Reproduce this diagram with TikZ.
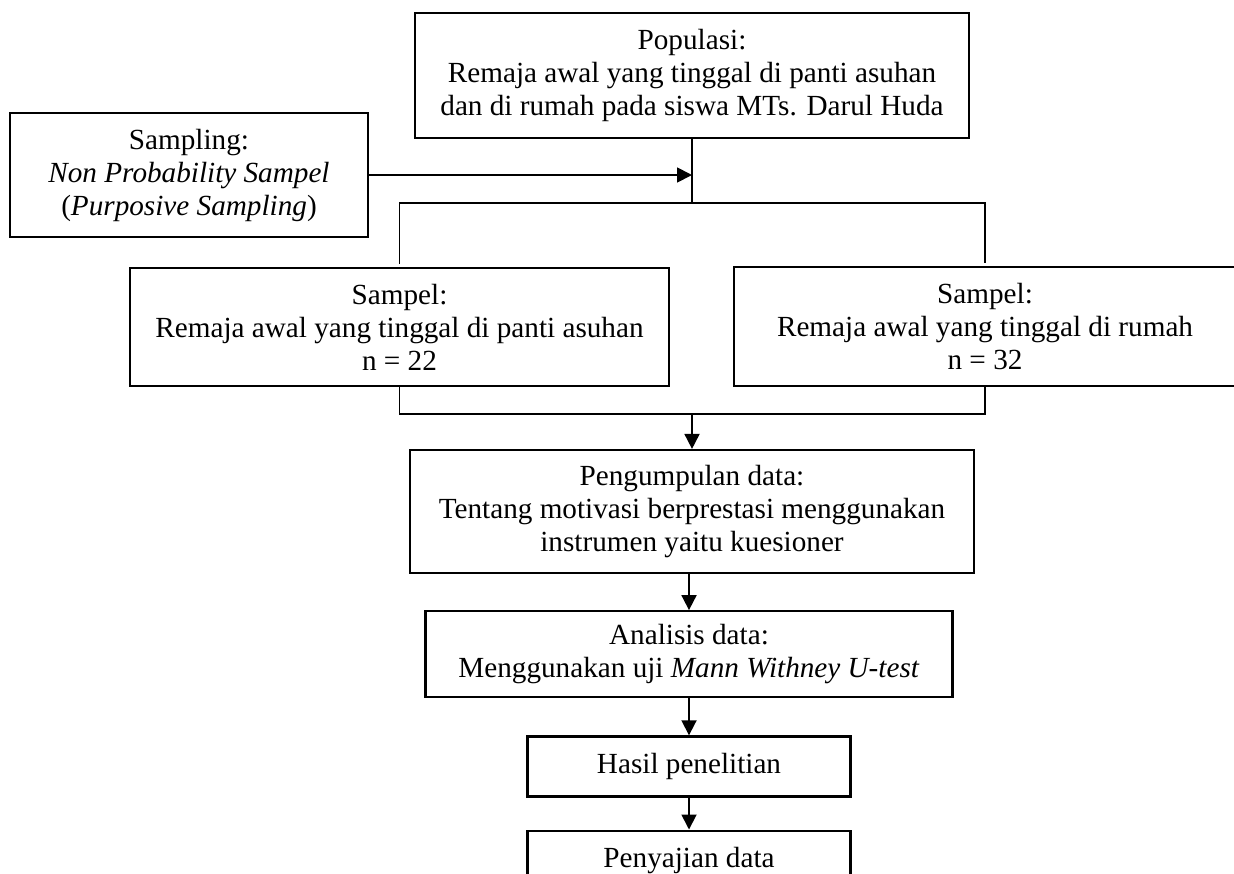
\documentclass[tikz,border=0pt]{standalone}
\usepackage{fontspec}
\setmainfont{Liberation Serif}
\usetikzlibrary{arrows.meta,positioning}

\begin{document}
\begin{tikzpicture}[
    x=0.5pt, y=-0.5pt, % one unit is one pixel, y runs downwards
    >={Triangle[length=7.5pt,width=7.5pt]}, % filled arrow heads
    line width=0.9pt,
    box/.style={draw, line width=1.1pt, align=center, inner sep=2pt,
        font=\fontsize{14.6}{16.5}\selectfont},
    link/.style={shorten >=1.5pt}
]
\useasboundingbox (0,0) rectangle (1234,873);
\clip (0,0) rectangle (1234,873);

% Nodes
\node[box, minimum width=277pt, minimum height=62.5pt] (P) at (692,75.5)
    {Populasi:\\ Remaja awal yang tinggal di panti asuhan\\ dan di rumah pada siswa MTs. Darul Huda};
\node[box, minimum width=179pt, minimum height=62pt] (S) at (189,175)
    {Sampling:\\ \textit{Non Probability Sampel}\\ (\textit{Purposive Sampling})};

\node[box, minimum width=269.5pt, minimum height=59pt] (SA) at (399.5,327)
    {Sampel:\\ Remaja awal yang tinggal di panti asuhan\\ n = 22};
\node[box, minimum width=251pt, minimum height=59.5pt] (SB) at (985,326.5)
    {Sampel:\\ Remaja awal yang tinggal di rumah\\ n = 32};

\node[box, minimum width=282pt, minimum height=61.5pt] (K) at (692,511.5)
    {Pengumpulan data:\\ Tentang motivasi berprestasi menggunakan\\ instrumen yaitu kuesioner};
\node[box, minimum width=263.5pt, minimum height=43pt] (AD) [below=18pt of K, xshift=-1.5pt]
    {Analisis data:\\ Menggunakan uji \textit{Mann Withney U-test}};
\node[box, minimum width=161.5pt, minimum height=30pt] (HP) [below=18.5pt of AD] {Hasil penelitian};
\node[box, minimum width=161.5pt, minimum height=30pt] (PD) [below=16pt of HP] {Penyajian data};

\coordinate (J) at (692,203);
\coordinate (M) at (692,414);

% Edges
\draw (P) -- (J);
\draw[->] (S.east) -- (S.east -| J);
\draw[link] (J) -| (SA.north);
\draw[link] (J) -| (SB.north);

\draw (SA.south) |- (M) -| (SB.south);
\draw[->] (M) -- (K);
\draw[->] (AD.north |- K.south) -- (AD.north);
\draw[->] (AD) -- (HP);
\draw[->] (HP) -- (PD);

\end{tikzpicture}
\end{document}
